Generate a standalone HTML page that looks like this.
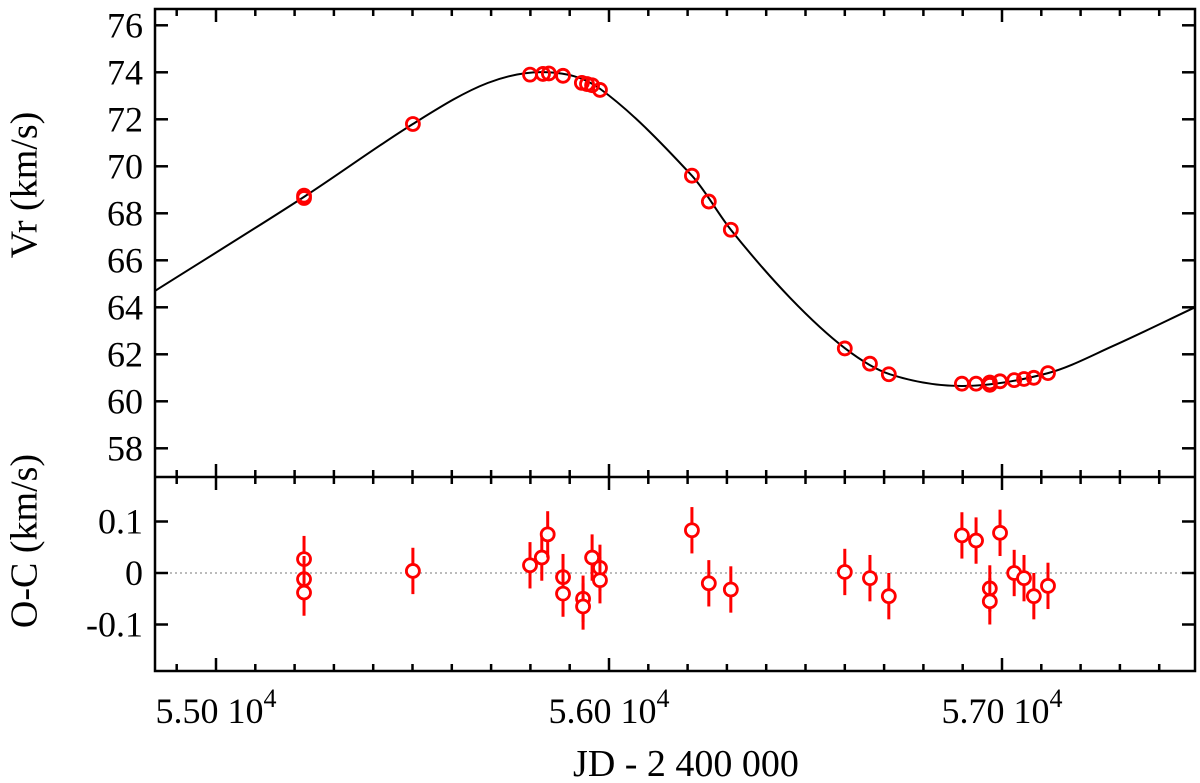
<!DOCTYPE html>
<html><head><meta charset="utf-8"><style>
html,body{margin:0;padding:0;background:#fff;}
svg{display:block;font-family:"Liberation Serif",serif;}
</style></head><body>
<svg id="chart" width="1200" height="783" viewBox="0 0 1200 783">
<g id="topPanel"></g>
<g id="botPanel"></g>
<text x="28" y="185" font-size="38" text-anchor="middle" dominant-baseline="middle" transform="rotate(-90 28 185)">Vr (km/s)</text>
<text x="28" y="541" font-size="38" text-anchor="middle" dominant-baseline="middle" transform="rotate(-90 28 541)">O-C (km/s)</text>
<text x="686" y="776" font-size="38" text-anchor="middle">JD - 2 400 000</text>
</svg>
<script>
// observation epochs (JD-2400000) and radial velocities
const obsJD = [55224,55224,55501,55799,55832,55847,55883,55931,55944,55957,55977,56211,56254,56310,56600,56664,56712,56898,56934,56969,56969,56995,57031,57056,57081,57117];
const obsV  = [68.65,68.75,71.8,73.9,73.93,73.95,73.85,73.55,73.5,73.45,73.25,69.6,68.5,67.3,62.25,61.6,61.15,60.75,60.75,60.7,60.8,60.85,60.9,60.95,61.0,61.2];
// residuals
const resJD = [55224,55224,55224,55501,55799,55829,55844,55883,55883,55934,55934,55957,55977,55977,56211,56254,56310,56600,56664,56712,56898,56934,56969,56969,56995,57031,57056,57081,57117];
const resV  = [0.027,-0.012,-0.038,0.004,0.015,0.03,0.075,-0.008,-0.04,-0.05,-0.065,0.03,0.01,-0.014,0.083,-0.02,-0.032,0.002,-0.01,-0.045,0.073,0.063,-0.03,-0.055,0.078,0,-0.01,-0.045,-0.025];
const resErr = 0.045;
// orbital model curve samples
const curveJD = [54845,55224,55501,55692,55845,55977,56211,56310,56461,56601,56715,56901,57117,57282,57491];
const curveV  = [64.7,68.7,71.8,73.55,74.0,73.3,69.6,67.3,64.4,62.25,61.15,60.65,61.2,62.35,64.0];
const xTicks = [55000,56000,57000];
const xTickLabels = ["5.50","5.60","5.70"];
const yTicksTop = [58,60,62,64,66,68,70,72,74,76];
const yTicksBot = [0.1,0,-0.1];
const yTicksBotLabels = ["0.1","0","-0.1"];

const NS="http://www.w3.org/2000/svg";
const L=155,R=1195,T=9,M=477,B=671;
const X=jd=>216+(jd-55000)*0.393;
const Yt=v=>25.3+(76-v)*23.5;
const Yb=v=>573-v*515;
function mk(tag,attrs,parent){const e=document.createElementNS(NS,tag);for(const k in attrs)e.setAttribute(k,attrs[k]);parent.appendChild(e);return e;}
const topG=document.getElementById('topPanel'),botG=document.getElementById('botPanel');

let zl=mk('line',{x1:L,x2:R,y1:Yb(0),y2:Yb(0),stroke:'#777','stroke-width':1,'stroke-dasharray':'2,3'},botG);



let pts=curveJD.map((j,i)=>[X(j),Yt(curveV[i])]);
const n=pts.length, m=[];
for(let i=0;i<n;i++){
  if(i===0) m.push((pts[1][1]-pts[0][1])/(pts[1][0]-pts[0][0]));
  else if(i===n-1) m.push((pts[n-1][1]-pts[n-2][1])/(pts[n-1][0]-pts[n-2][0]));
  else m.push((pts[i+1][1]-pts[i-1][1])/(pts[i+1][0]-pts[i-1][0]));
}
let d='M'+pts[0][0]+','+pts[0][1];
for(let i=0;i<n-1;i++){
  const h=pts[i+1][0]-pts[i][0];
  d+=` C${pts[i][0]+h/3},${pts[i][1]+m[i]*h/3} ${pts[i+1][0]-h/3},${pts[i+1][1]-m[i+1]*h/3} ${pts[i+1][0]},${pts[i+1][1]}`;
}
let cp=mk('path',{d:d,fill:'none',stroke:'#000','stroke-width':2},topG);



obsJD.forEach((j,i)=>{
  const c=mk('circle',{cx:X(j),cy:Yt(obsV[i]),r:6.5,fill:'none',stroke:'#f00','stroke-width':2.8},topG);
  
  
});
resJD.forEach((j,i)=>{
  const e=mk('line',{x1:X(j),x2:X(j),y1:Yb(resV[i]+resErr),y2:Yb(resV[i]-resErr),stroke:'#f00','stroke-width':3},botG);
  
  
  const c=mk('circle',{cx:X(j),cy:Yb(resV[i]),r:6.5,fill:'#fff',stroke:'#f00','stroke-width':2.8},botG);
  
  
});

const svg=document.getElementById('chart');
const ax=mk('g',{stroke:'#000','stroke-width':2.5,fill:'none'},svg);


mk('rect',{x:L,y:T,width:R-L,height:B-T},ax);
mk('line',{x1:L,x2:R,y1:M,y2:M},ax);
for(let jd=54900;jd<=57400;jd+=100){
  const x=X(jd);if(x<L+2||x>R-2)continue;
  const major=jd%1000===0, len=major?13:7;
  [[T,1],[M,-1],[M,1],[B,-1]].forEach(([y,s])=>mk('line',{x1:x,x2:x,y1:y,y2:y+s*len},ax));
}
yTicksTop.forEach(v=>{const y=Yt(v);mk('line',{x1:L,x2:L+13,y1:y,y2:y},ax);mk('line',{x1:R,x2:R-13,y1:y,y2:y},ax);
  const t=mk('text',{x:L-12,y:y+12,'font-size':36,'text-anchor':'end'},svg);t.textContent=v;
  
  });
yTicksBot.forEach((v,i)=>{const y=Yb(v);mk('line',{x1:L,x2:L+13,y1:y,y2:y},ax);mk('line',{x1:R,x2:R-13,y1:y,y2:y},ax);
  const t=mk('text',{x:L-12,y:y+12,'font-size':36,'text-anchor':'end'},svg);t.textContent=yTicksBotLabels[i];
  
  });
xTicks.forEach((v,i)=>{
  const t=mk('text',{x:X(v),y:723,'font-size':36,'text-anchor':'middle'},svg);
  
  
  t.appendChild(document.createTextNode(xTickLabels[i]+' 10'));
  const s=mk('tspan',{dy:-16,'font-size':26},t);s.textContent='4';
});
</script>
</body></html>
